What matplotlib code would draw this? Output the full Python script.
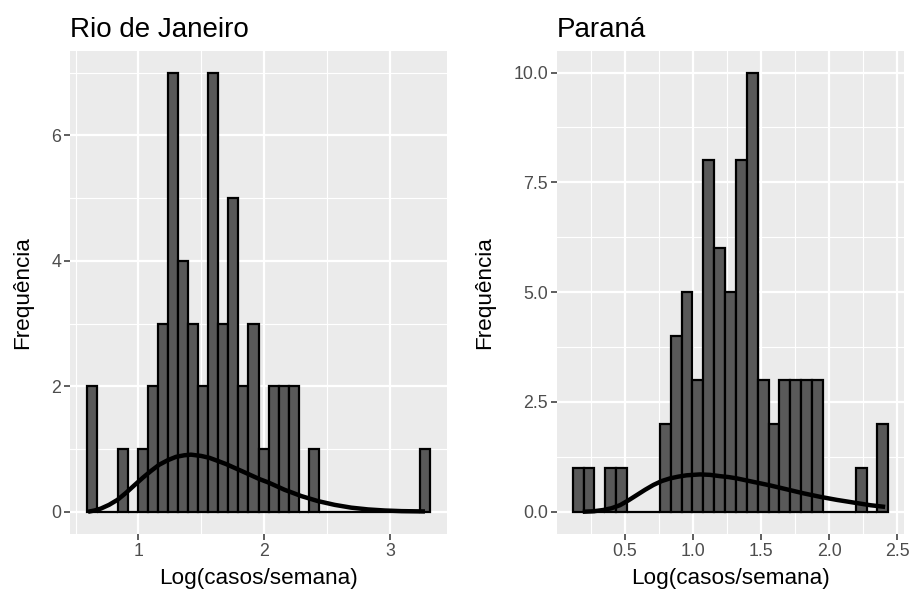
import numpy as np
import matplotlib
matplotlib.use("Agg")
import matplotlib.pyplot as plt
from matplotlib.ticker import FixedLocator

plt.rcParams['font.family'] = ['Liberation Sans', 'DejaVu Sans']

bin_width = 0.08

# Rio de Janeiro: histogram of log weekly cases
rj_start = 0.594
rj_counts = [2, 0, 0, 1, 0, 1, 2, 3, 7, 4, 3, 2, 7, 3, 5, 2, 3,
             1, 2, 2, 2, 0, 1, 0, 0, 0, 0, 0, 0, 0, 0, 0, 0, 1]
rj_curve_x = [0.599, 0.650, 0.700, 0.766, 0.833, 0.900, 0.966, 1.033, 1.099,
              1.165, 1.231, 1.298, 1.364, 1.417, 1.497, 1.563, 1.630, 1.696,
              1.763, 1.830, 1.896, 1.962, 2.028, 2.095, 2.161, 2.228, 2.294,
              2.360, 2.426, 2.493, 2.559, 2.692, 2.825, 2.958, 3.091, 3.277]
rj_curve_y = [0.0, 0.02, 0.05, 0.11, 0.19, 0.30, 0.42, 0.54, 0.65,
              0.75, 0.82, 0.875, 0.90, 0.91, 0.89, 0.86, 0.81, 0.76,
              0.70, 0.64, 0.58, 0.52, 0.47, 0.41, 0.35, 0.30, 0.25,
              0.21, 0.17, 0.14, 0.11, 0.065, 0.037, 0.02, 0.01, 0.005]

# Paraná
pr_start = 0.115
pr_counts = [1, 1, 0, 1, 1, 0, 0, 0, 2, 4, 5, 3, 8, 6, 5, 8, 10,
             3, 2, 3, 3, 3, 3, 0, 0, 0, 1, 0, 2]
pr_curve_x = [0.189, 0.265, 0.340, 0.400, 0.463, 0.525, 0.586, 0.647, 0.708,
              0.770, 0.831, 0.892, 0.953, 1.051, 1.125, 1.199, 1.260, 1.321,
              1.382, 1.443, 1.505, 1.566, 1.689, 1.811, 1.934, 2.057, 2.179,
              2.301, 2.412]
pr_curve_y = [0.0, 0.01, 0.04, 0.08, 0.15, 0.26, 0.38, 0.50, 0.61,
              0.70, 0.76, 0.80, 0.83, 0.85, 0.84, 0.81, 0.79, 0.76,
              0.72, 0.68, 0.64, 0.60, 0.51, 0.42, 0.34, 0.27, 0.21,
              0.15, 0.11]

panels = [
    dict(title="Rio de Janeiro", start=rj_start, counts=rj_counts,
         cx=rj_curve_x, cy=rj_curve_y,
         xticks=[1, 2, 3], xminor=[0.5, 1.5, 2.5, 3.5],
         yticks=[0, 2, 4, 6], yminor=[1, 3, 5, 7],
         ylabels=["0", "2", "4", "6"], xlabels=["1", "2", "3"],
         rect=[0.077, 0.103, 0.4123, 0.812]),
    dict(title="Paraná", start=pr_start, counts=pr_counts,
         cx=pr_curve_x, cy=pr_curve_y,
         xticks=[0.5, 1.0, 1.5, 2.0, 2.5], xminor=[0.25, 0.75, 1.25, 1.75, 2.25],
         yticks=[0, 2.5, 5, 7.5, 10], yminor=[1.25, 3.75, 6.25, 8.75],
         ylabels=["0.0", "2.5", "5.0", "7.5", "10.0"],
         xlabels=["0.5", "1.0", "1.5", "2.0", "2.5"],
         rect=[0.610, 0.103, 0.3802, 0.812]),
]

fig = plt.figure(figsize=(9.13, 5.95), dpi=100)

for p in panels:
    ax = fig.add_axes(p["rect"])
    ax.set_facecolor("#EBEBEB")
    for s in ax.spines.values():
        s.set_visible(False)

    counts = np.array(p["counts"], dtype=float)
    lefts = p["start"] + bin_width * np.arange(len(counts))
    ax.bar(lefts, counts, width=bin_width, align="edge",
           color="#595959", edgecolor="black", linewidth=1.6, zorder=3)
    ax.plot(p["cx"], p["cy"], color="black", linewidth=3.2,
            solid_capstyle="butt", solid_joinstyle="round", zorder=4)

    lo = p["start"]
    hi = p["start"] + bin_width * len(counts)
    pad = (hi - lo) * 0.05
    ax.set_xlim(lo - pad, hi + pad)
    ymax = counts.max()
    ax.set_ylim(-ymax * 0.05, ymax * 1.05)

    ax.xaxis.set_major_locator(FixedLocator(p["xticks"]))
    ax.xaxis.set_minor_locator(FixedLocator(p["xminor"]))
    ax.yaxis.set_major_locator(FixedLocator(p["yticks"]))
    ax.yaxis.set_minor_locator(FixedLocator(p["yminor"]))
    ax.set_xticklabels(p["xlabels"])
    ax.set_yticklabels(p["ylabels"])

    ax.grid(which="major", color="white", linewidth=1.6, zorder=0)
    ax.grid(which="minor", color="white", linewidth=0.8, zorder=0)
    ax.set_axisbelow(True)

    ax.tick_params(which="major", length=4, width=1.1, color="#333333",
                   labelcolor="#4D4D4D", labelsize=12.8, pad=2.5)
    ax.tick_params(which="minor", length=0)

    ax.set_xlabel("Log(casos/semana)", fontsize=16.2, labelpad=6)
    ax.set_ylabel("Frequência", fontsize=16.2, labelpad=13)
    ax.set_title(p["title"], loc="left", fontsize=20, pad=10)

fig.savefig("out.png", dpi=100)
